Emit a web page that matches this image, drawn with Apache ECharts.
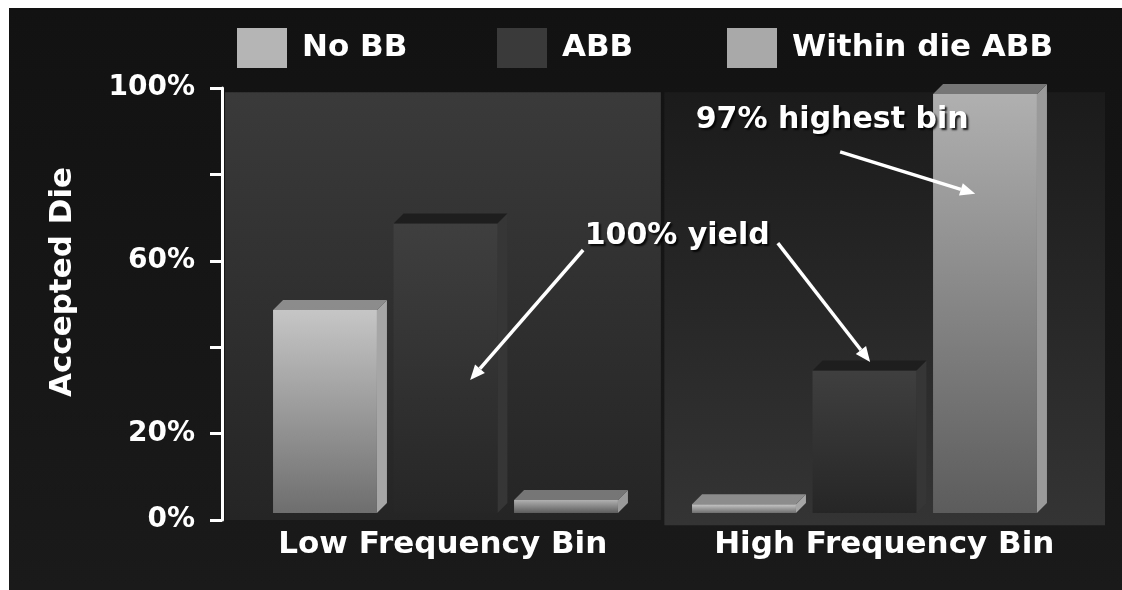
<!DOCTYPE html>
<html>
<head>
<meta charset="utf-8">
<title>Accepted Die by Frequency Bin</title>
<script src="https://cdn.jsdelivr.net/npm/echarts@6/dist/echarts.min.js"></script>
<style>
  html, body { margin: 0; padding: 0; background: #161616; overflow: hidden; }
  #frame { position: absolute; left: 0; top: 0; width: 1122px; height: 590px; box-sizing: border-box;
           border-top: 8px solid #ffffff; border-left: 9px solid #ffffff; background: #141414; }
  #chart { width: 1113px; height: 582px; }
</style>
</head>
<body>
<div id="frame"><div id="chart"></div></div>
<script>
// Categories and series values (percent of accepted die)
const categories = ['Low Frequency Bin', 'High Frequency Bin'];
const seriesNames = ['No BB', 'ABB', 'Within die ABB'];
const noBB = [47, 2];
const abb = [67, 33];
const withinDieABB = [3, 97];
const yTickValues = [0, 20, 40, 60, 80, 100];
const yTickLabels = { 0: '0%', 20: '20%', 60: '60%', 100: '100%' };

// Annotation texts and arrows, in (bin position 0..2, percent) units
const noteTexts = [
  { text: '100% yield', at: [1.031, 65.7] },
  { text: '97% highest bin', at: [1.382, 92.6] }
];
const noteArrows = [
  { from: [0.818, 62.5], to: [0.562, 32.4] },
  { from: [1.259, 64.1], to: [1.468, 36.6] },
  { from: [1.400, 85.2], to: [1.706, 75.5] }
];

// Back panels behind each bin
const panels = [
  { x: [0.007, 0.994], y: [0, 99], top: '#3a3a3a', bottom: '#252525' },
  { x: [1.002, 2.0], y: [-1.2, 99], top: '#1b1b1b', bottom: '#343434' }
];

// Look of each 3D bar series: front gradient, top face, right side face
const looks = [
  { legend: '#b5b5b5', front: ['#c6c6c6', '#6e6e6e'], top: '#8c8c8c', side: '#a6a6a6' },
  { legend: '#3a3a3a', front: ['#3f3f3f', '#262626'], top: '#1e1e1e', side: '#363636' },
  { legend: '#a9a9a9', front: ['#b0b0b0', '#5c5c5c'], top: '#767676', side: '#9a9a9a' }
];

const FONT = '"DejaVu Sans", Verdana, sans-serif';
const DEPTH = 10;   // 3D depth of bar faces, px
const LIFT = 7;     // front face raised above the back wall floor, px

const chart = echarts.init(document.getElementById('chart'));

function barSeries(name, values, idx) {
  const look = looks[idx];
  return {
    type: 'custom',
    name: name,
    xAxisIndex: 2,
    yAxisIndex: 1,
    z: 3,
    itemStyle: { color: look.legend },
    data: values.map((v, c) => [c, v]),
    renderItem(params, api) {
      const c = api.value(0), v = api.value(1);
      const top = api.coord([c, v]);
      const base = api.coord([c, 0]);
      const band = api.size([1, 0])[0];
      const w = band * 0.248;
      const cx = top[0] + (idx - 1) * band * 0.2876;
      const x0 = cx - w / 2, x1 = cx + w / 2;
      const yt = top[1] - LIFT, yb = base[1] - LIFT;
      return {
        type: 'group',
        children: [
          { type: 'polygon', shape: { points: [[x1, yt], [x1 + DEPTH, yt - DEPTH], [x1 + DEPTH, yb - DEPTH], [x1, yb]] },
            style: { fill: look.side } },
          { type: 'rect', shape: { x: x0, y: yt, width: w, height: yb - yt },
            style: { fill: new echarts.graphic.LinearGradient(0, 0, 0, 1, [
              { offset: 0, color: look.front[0] }, { offset: 1, color: look.front[1] }]) } },
          { type: 'polygon', shape: { points: [[x0, yt], [x0 + DEPTH, yt - DEPTH], [x1 + DEPTH, yt - DEPTH], [x1, yt]] },
            style: { fill: look.top } }
        ]
      };
    }
  };
}

function legendFor(name, left) {
  return {
    data: [name],
    left: left,
    top: 15,
    icon: 'rect',
    itemWidth: 50,
    itemHeight: 40,
    selectedMode: false,
    textStyle: { color: '#ffffff', fontFamily: FONT, fontWeight: 'bold', fontSize: 31, padding: [0, 0, 0, 10] }
  };
}

const option = {
  backgroundColor: new echarts.graphic.LinearGradient(0, 0, 0, 1, [
    { offset: 0, color: '#121212' }, { offset: 1, color: '#1a1a1a' }]),
  animation: false,
  legend: [
    legendFor(seriesNames[0], 223),
    legendFor(seriesNames[1], 483),
    legendFor(seriesNames[2], 713)
  ],
  grid: [
    { left: 213, right: 17, top: 80, bottom: 70 },
    { left: 227, right: 48, top: 80, bottom: 70 }
  ],
  xAxis: [
    { type: 'category', gridIndex: 0, data: categories,
      axisLine: { show: false }, axisTick: { show: false },
      axisLabel: { interval: 0, hideOverlap: false, color: '#ffffff', fontFamily: FONT, fontWeight: 'bold', fontSize: 31, margin: 9 } },
    { type: 'value', gridIndex: 0, min: 0, max: 2, show: false },
    { type: 'category', gridIndex: 1, data: categories, show: false }
  ],
  yAxis: [
    { type: 'value', gridIndex: 0, min: 0, max: 100, interval: 20,
      name: 'Accepted Die', nameLocation: 'middle', nameGap: 144,
      nameTextStyle: { color: '#ffffff', fontFamily: FONT, fontWeight: 'bold', fontSize: 31, padding: [0, 0, 0, 44] },
      axisLine: { show: true, lineStyle: { color: '#ffffff', width: 3 } },
      axisTick: { show: true, length: 12, lineStyle: { color: '#ffffff', width: 3 } },
      splitLine: { show: false },
      axisLabel: { color: '#ffffff', fontFamily: FONT, fontWeight: 'bold', fontSize: 28, margin: 27,
        formatter: v => (yTickLabels[v] !== undefined ? yTickLabels[v] : '') } },
    { type: 'value', gridIndex: 1, min: 0, max: 100, interval: 20, show: false }
  ],
  series: [
    {
      // back panels
      type: 'custom', xAxisIndex: 1, yAxisIndex: 0, z: 1, silent: true,
      data: panels.map((p, i) => [i]),
      renderItem(params, api) {
        const p = panels[api.value(0)];
        const a = api.coord([p.x[0], p.y[1]]);
        const b = api.coord([p.x[1], p.y[0]]);
        return { type: 'rect', shape: { x: a[0], y: a[1], width: b[0] - a[0], height: b[1] - a[1] },
          style: { fill: new echarts.graphic.LinearGradient(0, 0, 0, 1, [
            { offset: 0, color: p.top }, { offset: 1, color: p.bottom }]) } };
      }
    },
    barSeries(seriesNames[0], noBB, 0),
    barSeries(seriesNames[1], abb, 1),
    barSeries(seriesNames[2], withinDieABB, 2),
    {
      // annotation arrows
      type: 'custom', xAxisIndex: 1, yAxisIndex: 0, z: 6, silent: true,
      data: noteArrows.map((a, i) => [i]),
      renderItem(params, api) {
        const n = noteArrows[api.value(0)];
        const s = api.coord(n.from), e = api.coord(n.to);
        const ang = Math.atan2(e[1] - s[1], e[0] - s[0]);
        const L = 15, W = 6.5;
        const bx = e[0] - L * Math.cos(ang), by = e[1] - L * Math.sin(ang);
        const px = -Math.sin(ang) * W, py = Math.cos(ang) * W;
        return {
          type: 'group',
          children: [
            { type: 'line', shape: { x1: s[0], y1: s[1], x2: bx, y2: by },
              style: { stroke: '#ffffff', lineWidth: 3.5 } },
            { type: 'polygon', shape: { points: [[e[0], e[1]], [bx + px, by + py], [bx - px, by - py]] },
              style: { fill: '#ffffff' } }
          ]
        };
      }
    },
    {
      // annotation texts
      type: 'custom', xAxisIndex: 1, yAxisIndex: 0, z: 7, silent: true,
      data: noteTexts.map((t, i) => [i]),
      renderItem(params, api) {
        const t = noteTexts[api.value(0)];
        const p = api.coord(t.at);
        return {
          type: 'text', x: p[0], y: p[1],
          style: { text: t.text, fill: '#ffffff', align: 'center', verticalAlign: 'middle',
            fontFamily: FONT, fontWeight: 'bold', fontSize: 30,
            textShadowColor: 'rgba(0,0,0,0.85)', textShadowOffsetX: 2, textShadowOffsetY: 2, textShadowBlur: 2 }
        };
      }
    }
  ]
};

chart.setOption(option);
</script>
</body>
</html>
